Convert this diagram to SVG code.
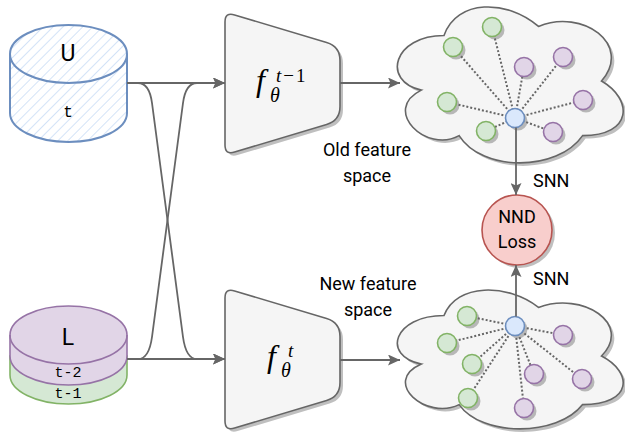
<svg xmlns="http://www.w3.org/2000/svg" width="625" height="446" viewBox="0 0 625 446">
<style>
.lbl{font-family:Roboto,"Liberation Sans",sans-serif;font-size:18px;fill:#000}
.big{font-size:23px}
.mono{font-family:"Liberation Mono","DejaVu Sans Mono",monospace;font-size:15px;fill:#000}
.math{font-family:"Liberation Serif","DejaVu Serif",serif;font-style:italic;fill:#000}
.up{font-style:normal}
.conn{fill:none;stroke:#666;stroke-width:1.8}
.dot{fill:none;stroke:#666;stroke-width:2;stroke-dasharray:2 2}
.shadow{fill:#000;fill-opacity:0.25;stroke:none}
.green{fill:#d5e8d4;stroke:#82b366;stroke-width:1.6}
.purple{fill:#e1d5e7;stroke:#9673a6;stroke-width:1.6}
.blue{fill:#dae8fc;stroke:#6c8ebf;stroke-width:1.6}
.gray{fill:#f5f5f5;stroke:#666;stroke-width:1.6}
</style>
<defs>
<pattern id="hatch" width="7" height="7" patternUnits="userSpaceOnUse" patternTransform="rotate(45)">
<rect width="7" height="7" fill="#fff"/>
<line x1="0" y1="0" x2="0" y2="7" stroke="#c9dcf6" stroke-width="1.6"/>
</pattern>
<marker id="arr" viewBox="0 0 12 11" refX="12" refY="5.5" markerWidth="12" markerHeight="11" markerUnits="userSpaceOnUse" orient="auto">
<path d="M0,0 L12,5.5 L0,11 L2.5,5.5 Z" fill="#666"/>
</marker>
<path id="trapTop" d="M234.6,14.9 L326.6,42.5 Q340,46.5 340,60.5 L340,106.5 Q340,120.5 326.6,124.5 L234.6,152.1 Q225,155 225,145 L225,22 Q225,12 234.6,14.9 Z"/>
<path id="cloudTop" d="M444,35.5 C393.6,35.5 381,81 421.3,90.1 C381,110.1 426.4,153.8 459.1,135.6 C481.8,172 557.4,172 582.6,135.6 C633,135.6 633,99.2 601.5,81 C633,44.6 582.6,8.2 538.5,26.4 C507,-0.9 456.6,-0.9 444,35.5 Z"/>
<path id="cloudBot" d="M444,315.5 C393.6,315.5 381,356 421.3,364.1 C381,381.9 426.4,420.8 459.1,404.6 C481.8,437 557.4,437 582.6,404.6 C633,404.6 633,372.2 601.5,356 C633,323.6 582.6,291.2 538.5,307.4 C507,283.1 456.6,283.1 444,315.5 Z"/>
</defs>

<g id="U">
<path d="M10,54 A58.5,29 0 0 1 127,54 L127,113 A58.5,29 0 0 1 10,113 Z" fill="url(#hatch)" stroke="#6c8ebf" stroke-width="2"/>
<path d="M10,54 A58.5,29 0 0 0 127,54" fill="none" stroke="#6c8ebf" stroke-width="2"/>
<text x="68" y="61" class="lbl big" text-anchor="middle">U</text>
<text x="68" y="117" class="mono" style="font-size:16px" text-anchor="middle">t</text>
</g>

<g id="L">
<path d="M10,356 L10,375 A58.5,29 0 0 0 127,375 L127,356 Z" fill="#d5e8d4" stroke="#82b366" stroke-width="1.6"/>
<path d="M10,335 A58.5,29 0 0 1 127,335 L127,356 A58.5,29 0 0 1 10,356 Z" fill="#e1d5e7" stroke="#9673a6" stroke-width="1.6"/>
<path d="M10,335 A58.5,29 0 0 0 127,335" fill="none" stroke="#9673a6" stroke-width="1.6"/>
<text x="68" y="345" class="lbl big" text-anchor="middle">L</text>
<text x="68" y="377" class="mono" text-anchor="middle">t-2</text>
<text x="68" y="398" class="mono" text-anchor="middle">t-1</text>
</g>

<g id="encoder-old">
<use href="#trapTop" class="shadow" transform="translate(3,3)"/>
<use href="#trapTop" class="gray"/>
<text class="math" font-size="32" x="256" y="91">f</text>
<text class="math" font-size="19" x="276" y="82">t<tspan class="up" dx="2">−</tspan><tspan class="up" dx="2">1</tspan></text>
<text class="math" font-size="20" x="270" y="102">θ</text>
</g>

<g id="encoder-new">
<use href="#trapTop" class="shadow" transform="translate(3,279)"/>
<use href="#trapTop" class="gray" transform="translate(0,276)"/>
<text class="math" font-size="32" x="267" y="367">f</text>
<text class="math" font-size="19" x="288" y="357">t</text>
<text class="math" font-size="20" x="281" y="377">θ</text>
</g>

<g id="old-space">
<use href="#cloudTop" class="shadow" transform="translate(3,3)"/>
<use href="#cloudTop" class="gray"/>
<g class="shadow" transform="translate(3,3)">
<circle cx="492" cy="27" r="9.5"/><circle cx="453" cy="47" r="9.5"/><circle cx="447" cy="102" r="9.5"/><circle cx="486" cy="131" r="9.5"/>
<circle cx="524" cy="67" r="9.5"/><circle cx="563" cy="57" r="9.5"/><circle cx="583" cy="100" r="9.5"/><circle cx="553" cy="132" r="9.5"/>
<circle cx="515" cy="118" r="9.5"/>
</g>
<g class="dot">
<line x1="515" y1="118" x2="492" y2="27"/><line x1="515" y1="118" x2="453" y2="47"/><line x1="515" y1="118" x2="447" y2="102"/><line x1="515" y1="118" x2="486" y2="131"/>
<line x1="515" y1="118" x2="524" y2="67"/><line x1="515" y1="118" x2="563" y2="57"/><line x1="515" y1="118" x2="583" y2="100"/><line x1="515" y1="118" x2="553" y2="132"/>
</g>
<g class="green"><circle cx="492" cy="27" r="9.5"/><circle cx="453" cy="47" r="9.5"/><circle cx="447" cy="102" r="9.5"/><circle cx="486" cy="131" r="9.5"/></g>
<g class="purple"><circle cx="524" cy="67" r="9.5"/><circle cx="563" cy="57" r="9.5"/><circle cx="583" cy="100" r="9.5"/><circle cx="553" cy="132" r="9.5"/></g>
<circle class="blue" cx="515" cy="118" r="9.5"/>
</g>

<g id="new-space">
<use href="#cloudBot" class="shadow" transform="translate(3,3)"/>
<use href="#cloudBot" class="gray"/>
<g class="shadow" transform="translate(3,3)">
<circle cx="467" cy="316" r="9.5"/><circle cx="447" cy="343" r="9.5"/><circle cx="472" cy="364" r="9.5"/><circle cx="468" cy="398" r="9.5"/>
<circle cx="563" cy="335" r="9.5"/><circle cx="534" cy="374" r="9.5"/><circle cx="582" cy="379" r="9.5"/><circle cx="524" cy="408" r="9.5"/>
<circle cx="515" cy="326" r="9.5"/>
</g>
<g class="dot">
<line x1="515" y1="326" x2="467" y2="316"/><line x1="515" y1="326" x2="447" y2="343"/><line x1="515" y1="326" x2="472" y2="364"/><line x1="515" y1="326" x2="468" y2="398"/>
<line x1="515" y1="326" x2="563" y2="335"/><line x1="515" y1="326" x2="534" y2="374"/><line x1="515" y1="326" x2="582" y2="379"/><line x1="515" y1="326" x2="524" y2="408"/>
</g>
<g class="green"><circle cx="467" cy="316" r="9.5"/><circle cx="447" cy="343" r="9.5"/><circle cx="472" cy="364" r="9.5"/><circle cx="468" cy="398" r="9.5"/></g>
<g class="purple"><circle cx="563" cy="335" r="9.5"/><circle cx="534" cy="374" r="9.5"/><circle cx="582" cy="379" r="9.5"/><circle cx="524" cy="408" r="9.5"/></g>
<circle class="blue" cx="515" cy="326" r="9.5"/>
</g>

<g id="nnd-loss">
<circle cx="520" cy="233" r="35" class="shadow"/>
<circle cx="517" cy="230" r="35" fill="#f8cecc" stroke="#b85450" stroke-width="1.6"/>
<text x="517" y="223" class="lbl" text-anchor="middle">NND</text>
<text x="517" y="248" class="lbl" text-anchor="middle">Loss</text>
</g>

<g id="connectors">
<path class="conn" d="M127,83 L225,83" marker-end="url(#arr)"/>
<path class="conn" d="M127,359 L225,359" marker-end="url(#arr)"/>
<path class="conn" d="M127,83 L138,83 C147,83 150.5,92 152,103 L183,337 C184.5,348 188,359 197,359 L225,359" marker-end="url(#arr)"/>
<path class="conn" d="M127,359 L138,359 C147,359 150.5,348 152,337 L183,103 C184.5,92 188,83 197,83 L225,83" marker-end="url(#arr)"/>
<path class="conn" d="M340,83 L400,83" marker-end="url(#arr)"/>
<path class="conn" d="M340,360 L400,360" marker-end="url(#arr)"/>
<path class="conn" d="M516,127.5 L516,195" marker-end="url(#arr)"/>
<path class="conn" d="M516,316.5 L516,265" marker-end="url(#arr)"/>
</g>

<g id="labels">
<text x="367" y="156" class="lbl" text-anchor="middle">Old feature</text>
<text x="367" y="182" class="lbl" text-anchor="middle">space</text>
<text x="368" y="290" class="lbl" text-anchor="middle">New feature</text>
<text x="368" y="316" class="lbl" text-anchor="middle">space</text>
<text x="533" y="187" class="lbl">SNN</text>
<text x="533" y="285" class="lbl">SNN</text>
</g>
</svg>
